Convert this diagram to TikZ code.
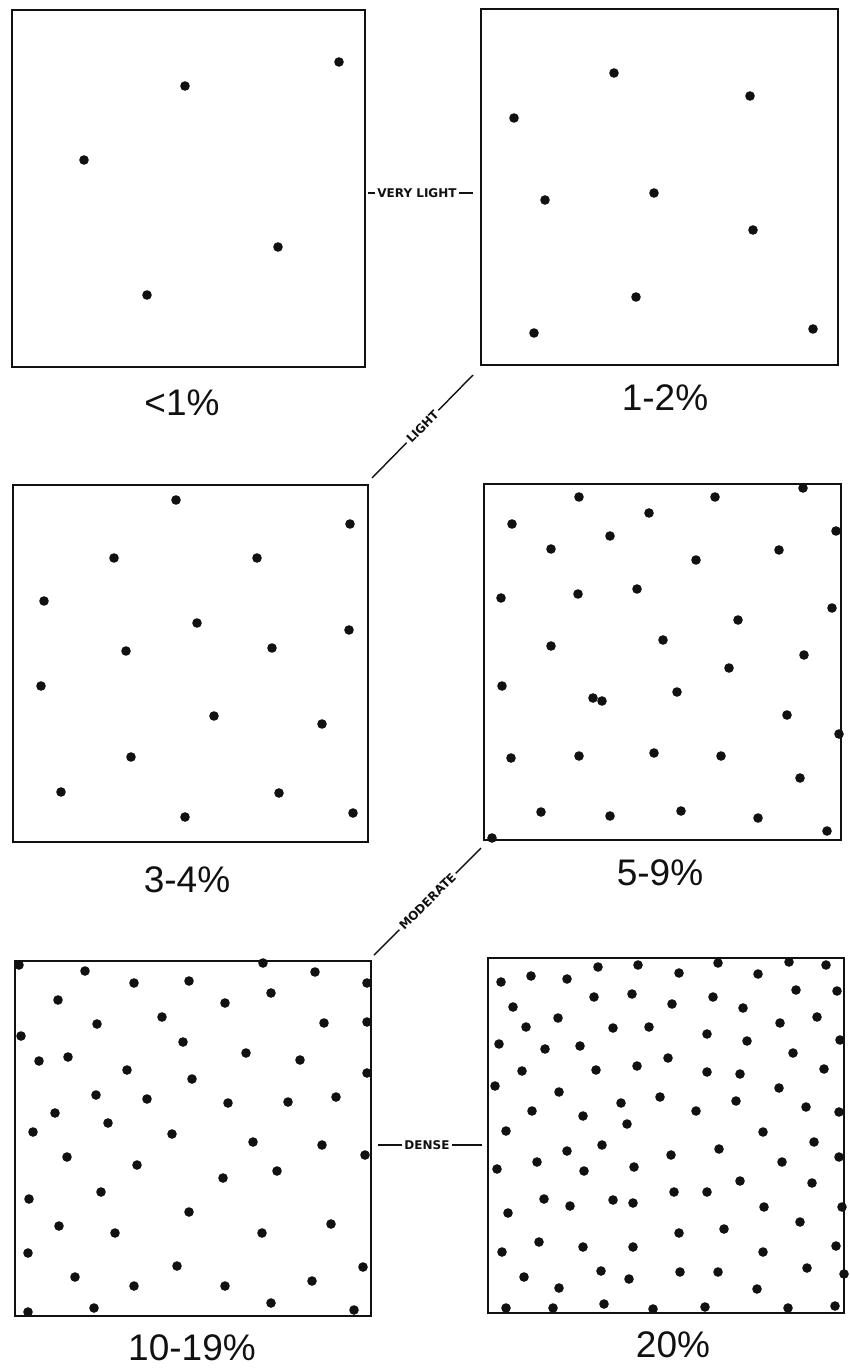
\documentclass[tikz,border=0pt]{standalone}
\usepackage{fontspec}
\setmainfont{Liberation Sans}
\newfontfamily\tagfont{DejaVu Sans}
\usepackage{tikz}
\usetikzlibrary{calc,positioning}
\definecolor{ink}{HTML}{111111}

\begin{document}
\begin{tikzpicture}[x=1pt,y=-1pt,
  panel/.style={draw=ink,line width=2.7pt,inner sep=0pt,outer sep=0pt},
  pct/.style={font=\fontsize{37}{40}\selectfont,text=ink,inner sep=0pt},
  tag/.style={font=\tagfont\bfseries\fontsize{12}{13}\selectfont,text=ink,fill=white,inner sep=2.5pt},
  link/.style={draw=ink,line width=1.4pt},
  dot/.style={fill=ink}]
\fill[white] (0,0) rectangle (849,1370);
\useasboundingbox (0,0) rectangle (849,1370);

% the six sample squares
\node[panel,minimum width=353pt,minimum height=357pt] (b1) at (188.5,188.5) {};
\node[panel,minimum width=357pt,minimum height=356pt] (b2) at (659.5,187) {};
\node[panel,minimum width=355pt,minimum height=357pt] (b3) at (190.5,663.5) {};
\node[panel,minimum width=357pt,minimum height=356pt] (b4) at (662.5,662) {};
\node[panel,minimum width=356pt,minimum height=355pt] (b5) at (193,1138.5) {};
\node[panel,minimum width=356pt,minimum height=355pt] (b6) at (666,1135.5) {};

% percent labels
\node[pct] (p1) at (182,403) {<1\%};
\node[pct] (p2) at (665,398) {1-2\%};
\node[pct] (p3) at (187,880) {3-4\%};
\node[pct] (p4) at (660,873) {5-9\%};
\node[pct] (p5) at (192,1348) {10-19\%};
\node[pct] (p6) at (673,1345) {20\%};

% class names between the squares
\node[tag] (vl) at (417,193) {VERY LIGHT};
\draw[link] ($(b1.east |- vl)+(3,0)$) -- (vl);
\draw[link] (vl) -- ($(b2.west |- vl)+(-8,0)$);

\coordinate (l0) at ($(b3.north east)+(4,-7)$);
\coordinate (l1) at ($(b2.south west)+(-8,10)$);
\draw[link] (l0) -- node[tag,sloped] (lt) {LIGHT} (l1);

\coordinate (m0) at ($(b5.north east)+(3,-6)$);
\coordinate (m1) at ($(b4.south west)+(-3,8)$);
\draw[link] (m0) -- node[tag,sloped] (md) {MODERATE} (m1);

\node[tag] (dn) at (427,1145) {DENSE};
\draw[link] ($(b5.east |- dn)+(7,0)$) -- (dn);
\draw[link] (dn) -- ($(b6.west |- dn)+(-6,0)$);

% dots
\foreach \x/\y in {339/62,185/86,84/160,278/247,147/295}
  \fill[dot] (\x,\y) circle (4.8);
\foreach \x/\y in {614/73,750/96,514/118,545/200,654/193,753/230,636/297,534/333,813/329}
  \fill[dot] (\x,\y) circle (4.8);
\foreach \x/\y in {176/500,350/524,114/558,257/558,44/601,197/623,349/630,126/651,
  272/648,41/686,214/716,322/724,131/757,61/792,279/793,185/817,353/813}
  \fill[dot] (\x,\y) circle (4.8);
\foreach \x/\y in {579/497,715/497,803/488,512/524,649/513,610/536,836/531,551/549,
  696/560,779/550,501/598,578/594,637/589,738/620,832/608,551/646,663/640,804/655,
  729/668,502/686,593/698,602/701,677/692,787/715,839/734,511/758,579/756,654/753,
  721/756,800/778,541/812,610/816,681/811,758/818,827/831,492/838}
  \fill[dot] (\x,\y) circle (4.8);
\foreach \x/\y in {19/965,85/971,134/983,189/981,263/963,315/972,367/983,58/1000,
  225/1003,271/993,97/1024,162/1017,324/1023,367/1022,21/1036,183/1042,39/1061,
  68/1057,246/1053,300/1060,127/1070,192/1079,367/1073,96/1095,147/1099,228/1103,
  288/1102,336/1097,55/1113,108/1123,33/1132,172/1134,253/1142,322/1145,365/1155,
  67/1157,137/1165,223/1178,277/1171,101/1192,29/1199,189/1212,59/1226,115/1233,
  262/1233,331/1224,28/1253,177/1266,363/1267,75/1277,134/1286,225/1286,312/1281,
  271/1303,94/1308,28/1312,354/1310}
  \fill[dot] (\x,\y) circle (4.8);
\foreach \x/\y in {501/982,531/976,567/979,598/967,638/965,679/973,718/963,758/974,
  789/962,826/965,513/1007,594/997,632/994,672/1004,713/997,743/1008,796/990,837/991,
  526/1027,558/1018,613/1028,649/1027,707/1034,747/1041,780/1023,817/1017,499/1044,
  545/1049,580/1046,668/1058,793/1053,840/1040,522/1071,596/1070,637/1066,707/1072,
  740/1074,824/1069,495/1086,559/1092,621/1103,660/1097,696/1111,736/1101,779/1088,
  806/1107,839/1112,532/1111,583/1116,627/1124,506/1131,763/1132,602/1145,567/1151,
  671/1155,719/1149,814/1142,839/1157,537/1162,497/1169,584/1171,634/1167,782/1162,
  740/1181,812/1183,674/1192,707/1192,544/1199,570/1206,613/1200,633/1203,508/1213,
  764/1207,842/1207,800/1222,679/1233,724/1229,539/1242,502/1252,583/1247,633/1247,
  763/1252,836/1246,807/1268,524/1277,601/1271,629/1279,680/1272,718/1272,844/1274,
  559/1288,757/1289,506/1308,553/1308,604/1304,653/1309,705/1307,788/1308,835/1306}
  \fill[dot] (\x,\y) circle (4.8);
\end{tikzpicture}
\end{document}
